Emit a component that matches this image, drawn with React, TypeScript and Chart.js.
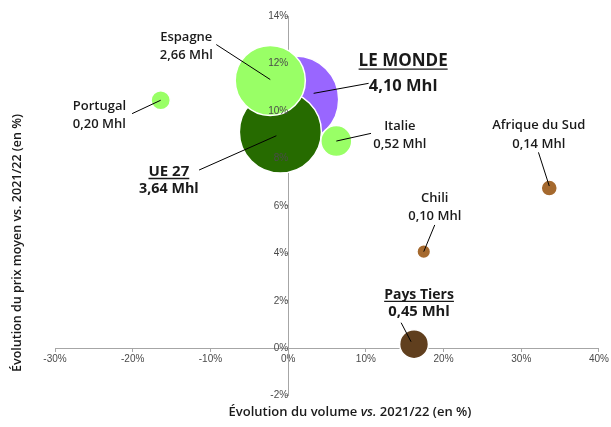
import React, { useEffect, useRef } from 'react';
import { Chart, registerables } from 'chart.js';

Chart.register(...registerables);

// ---- Data ----
const countries = ['LE MONDE', 'UE 27', 'Espagne', 'Italie', 'Portugal', 'Pays Tiers', 'Chili', 'Afrique du Sud'];
const volumesMhl = [4.10, 3.64, 2.66, 0.52, 0.20, 0.45, 0.10, 0.14];
const volumeChangePct = [0.9, -1.0, -2.3, 6.2, -16.4, 16.2, 17.45, 33.6];
const priceChangePct = [10.48, 9.11, 11.28, 8.73, 10.45, 0.17, 4.07, 6.75];
const bubbleColors = ['#9966FF', '#266B00', '#99FF66', '#99FF66', '#99FF66', '#603F1E', '#A5692E', '#A5692E'];

const xTicksMin = -30;
const xTicksMax = 40;
const xStep = 10;
const yTicksMin = -2;
const yTicksMax = 14;
const yStep = 2;

const xTitleParts = [
  { text: 'Évolution du volume ', italic: false },
  { text: 'vs.', italic: true },
  { text: ' 2021/22 (en %)', italic: false },
];
const yTitle = 'Évolution du prix moyen vs. 2021/22 (en %)';

// ---- Label layout (pixel offsets relative to each bubble centre) ----
type Ann = {
  dx: number; dy1: number; dy2: number;
  size1: number; size2: number; bold: boolean; underline: boolean;
  ls: [number, number]; le: [number, number];
};
const annotations: Ann[] = [
  { dx: 108, dy1: -38, dy2: -13, size1: 17, size2: 16.5, bold: true, underline: true, ls: [73.5, -16.2], le: [18.5, -6.2] },
  { dx: -111.5, dy1: 39.7, dy2: 57.3, size1: 15, size2: 14.3, bold: true, underline: true, ls: [-81.3, 38], le: [-4, 3.7] },
  { dx: -84, dy1: -43, dy2: -25.5, size1: 13, size2: 13, bold: false, underline: false, ls: [-54, -36], le: [0, -1] },
  { dx: 63.5, dy1: -14.3, dy2: 3.3, size1: 13, size2: 13, bold: false, underline: false, ls: [34.7, -7.7], le: [0, 0] },
  { dx: -61.3, dy1: 6.4, dy2: 24, size1: 13, size2: 13, bold: false, underline: false, ls: [-28.6, 13.4], le: [0, 0] },
  { dx: 5, dy1: -49.2, dy2: -32.5, size1: 14, size2: 14.8, bold: true, underline: true, ls: [-12.9, -21.5], le: [-3, -2.5] },
  { dx: 11, dy1: -53.4, dy2: -35, size1: 13, size2: 13, bold: false, underline: false, ls: [11, -26.7], le: [0, 0] },
  { dx: -10.5, dy1: -62.3, dy2: -44, size1: 13, size2: 13, bold: false, underline: false, ls: [-10.8, -35.7], le: [0, -2] },
];

const LABEL_FONT = '"Open Sans", "Noto Sans", sans-serif';
const TICK_FONT = '"Liberation Sans", Arial, sans-serif';
const TEXT_COLOR = '#1a1a1a';
const TICK_COLOR = '#4a4a4a';
const AXIS_COLOR = '#a6a6a6';
const RADIUS_K = 21.5;

const fmtVolume = (v: number) => v.toFixed(2).replace('.', ',') + ' Mhl';

const labelPlugin = {
  id: 'bubbleLabels',
  afterDatasetsDraw(chart: any) {
    const ctx = chart.ctx as CanvasRenderingContext2D;
    const meta = chart.getDatasetMeta(0);
    ctx.save();
    meta.data.forEach((el: any, i: number) => {
      const a = annotations[i];
      if (!a) return;
      const cx = el.x;
      const cy = el.y;
      ctx.beginPath();
      ctx.strokeStyle = '#000';
      ctx.lineWidth = 1;
      ctx.moveTo(cx + a.ls[0], cy + a.ls[1]);
      ctx.lineTo(cx + a.le[0], cy + a.le[1]);
      ctx.stroke();
      ctx.fillStyle = TEXT_COLOR;
      ctx.textAlign = 'center';
      ctx.textBaseline = 'middle';
      const w1 = a.bold ? '700' : '600';
      ctx.font = `${w1} ${a.size1}px ${LABEL_FONT}`;
      const t1 = countries[i];
      ctx.fillText(t1, cx + a.dx, cy + a.dy1);
      if (a.underline) {
        const tw = ctx.measureText(t1).width;
        ctx.beginPath();
        ctx.lineWidth = 1.3;
        ctx.strokeStyle = TEXT_COLOR;
        const uy = cy + a.dy1 + a.size1 * 0.45;
        ctx.moveTo(cx + a.dx - tw / 2, uy);
        ctx.lineTo(cx + a.dx + tw / 2, uy);
        ctx.stroke();
      }
      ctx.font = `${w1} ${a.size2}px ${LABEL_FONT}`;
      ctx.fillText(fmtVolume(volumesMhl[i]), cx + a.dx, cy + a.dy2);
    });
    ctx.restore();
  },
  afterDraw(chart: any) {
    const ctx = chart.ctx as CanvasRenderingContext2D;
    ctx.save();
    ctx.fillStyle = TEXT_COLOR;
    ctx.textBaseline = 'middle';
    const fonts = xTitleParts.map((p) => `${p.italic ? 'italic ' : ''}600 13px ${LABEL_FONT}`);
    const widths = xTitleParts.map((p, i) => { ctx.font = fonts[i]; return ctx.measureText(p.text).width; });
    const total = widths.reduce((s, w) => s + w, 0);
    let x = 350 - total / 2;
    ctx.textAlign = 'left';
    xTitleParts.forEach((p, i) => {
      ctx.font = fonts[i];
      ctx.fillText(p.text, x, 412);
      x += widths[i];
    });
    ctx.translate(17, 243);
    ctx.rotate(-Math.PI / 2);
    ctx.textAlign = 'center';
    ctx.font = `600 12.5px ${LABEL_FONT}`;
    ctx.fillText(yTitle, 0, 0);
    ctx.restore();
  },
};

export default function App() {
  const ref = useRef<HTMLCanvasElement>(null);
  useEffect(() => {
    const canvas = ref.current;
    if (!canvas) return;
    const chart = new Chart(canvas, {
      type: 'bubble',
      data: {
        datasets: [
          {
            data: countries.map((_, i) => ({
              x: volumeChangePct[i],
              y: priceChangePct[i],
              r: RADIUS_K * Math.sqrt(volumesMhl[i]),
            })),
            backgroundColor: bubbleColors,
            borderColor: '#ffffff',
            borderWidth: 1.5,
            clip: false,
          } as any,
        ],
      },
      options: {
        animation: false,
        responsive: false,
        maintainAspectRatio: false,
        events: [],
        layout: { autoPadding: false, padding: { left: 55, right: 8.3, top: 16, bottom: 31.3 } },
        plugins: { legend: { display: false }, tooltip: { enabled: false } },
        scales: {
          x: {
            type: 'linear',
            min: xTicksMin,
            max: xTicksMax,
            position: { y: 0 } as any,
            ticks: {
              stepSize: xStep,
              callback: (v: any) => `${v}%`,
              font: { family: TICK_FONT, size: 10 },
              color: TICK_COLOR,
              padding: 2,
              maxRotation: 0,
              autoSkip: false,
            },
            grid: { drawOnChartArea: false, drawTicks: true, tickLength: 3, color: AXIS_COLOR },
            border: { color: AXIS_COLOR, width: 1 },
          },
          y: {
            type: 'linear',
            min: yTicksMin,
            max: yTicksMax,
            position: { x: 0 } as any,
            ticks: {
              stepSize: yStep,
              callback: (v: any) => `${v}%`,
              font: { family: TICK_FONT, size: 10 },
              color: TICK_COLOR,
              padding: 4,
              z: 1,
              autoSkip: false,
            },
            grid: { drawOnChartArea: false, drawTicks: true, tickLength: 3, color: AXIS_COLOR },
            border: { color: AXIS_COLOR, width: 1 },
          },
        },
      } as any,
      plugins: [labelPlugin],
    });
    return () => chart.destroy();
  }, []);
  return (
    <div style={{ position: 'absolute', left: 0, top: 0, width: 611, height: 427, background: '#fff' }}>
      <canvas ref={ref} width={611} height={427} style={{ display: 'block', width: 611, height: 427 }} />
    </div>
  );
}
